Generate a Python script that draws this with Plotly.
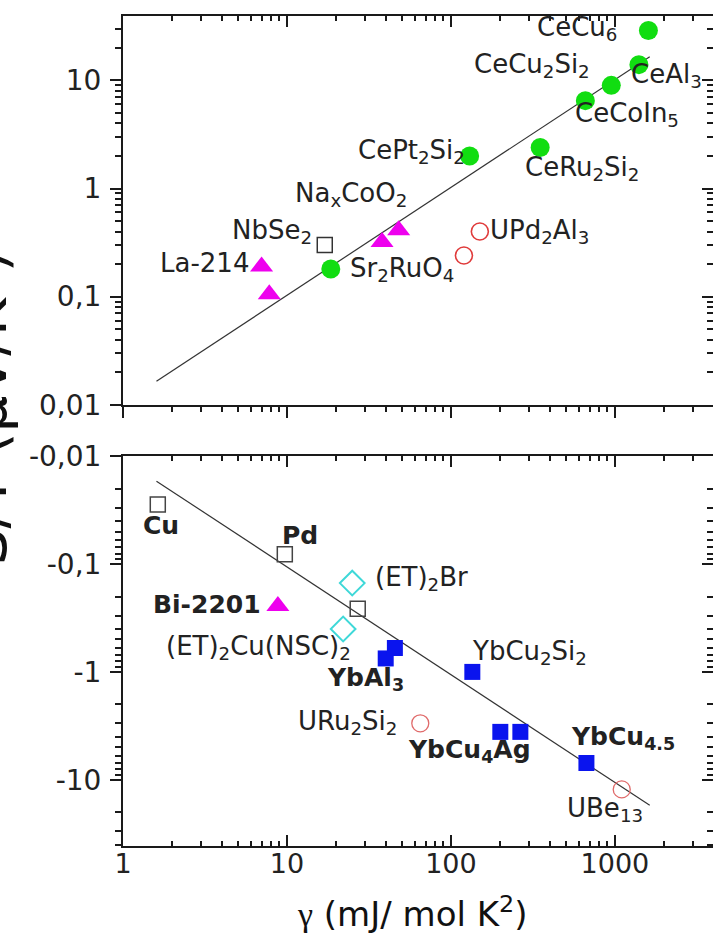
import numpy as np
import plotly.graph_objects as go

# ---------------- data ----------------
# upper panel: S/T > 0  (gamma in mJ/mol K^2, S/T in microV/K^2)
ce_gamma = [1600, 1400, 950, 660, 130, 350, 18.5]        # CeCu6, CeAl3, CeCu2Si2, CeCoIn5, CePt2Si2, CeRu2Si2, Sr2RuO4
ce_st = [29.0, 14.0, 9.0, 6.5, 2.0, 2.4, 0.18]
tri_top_gamma = [7.0, 7.8, 38, 48]                         # La-214 (x2), NaxCoO2 (x2)
tri_top_st = [0.19, 0.105, 0.32, 0.41]
sq_top_gamma = [17]                                        # NbSe2
sq_top_st = [0.30]
u_top_gamma = [150, 120]                                   # UPd2Al3
u_top_st = [0.40, 0.24]
fit_top_gamma = [1.6, 1630]
fit_top_st = [0.0165, 16.6]

# lower panel: S/T < 0
sq_bot_gamma = [1.63, 9.7, 27]                             # Cu, Pd, (unlabelled)
sq_bot_st = [-0.028, -0.081, -0.26]
et_gamma = [25, 22]                                        # (ET)2Br, (ET)2Cu(NSC)2
et_st = [-0.15, -0.40]
bi_gamma = [8.8]                                           # Bi-2201
bi_st = [-0.245]
yb_gamma = [40, 45.5, 135, 200, 265, 670]                  # YbAl3 (x2), YbCu2Si2, YbCu4Ag (x2), YbCu4.5
yb_st = [-0.75, -0.60, -1.0, -3.6, -3.6, -7.0]
u_bot_gamma = [65, 1100]                                   # URu2Si2, UBe13
u_bot_st = [-3.0, -12.3]
fit_bot_gamma = [1.6, 1630]
fit_bot_st = [-0.017, -17.3]

# tick labels
x_tickvals = [1, 10, 100, 1000]
x_ticktext = ["1", "10", "100", "1000"]
y_tickvals = [0.01, 0.1, 1, 10]
y_top_ticktext = ["0,01", "0,1", "1", "10"]
y_bot_ticktext = ["-0,01", "-0,1", "-1", "-10"]

# text labels: (text, gamma, S/T, bold)
top_labels = [
    ("CeCu<sub>6</sub>", 590, 27.5, False),
    ("CeCu<sub>2</sub>Si<sub>2</sub>", 312, 12.6, False),
    ("CeAl<sub>3</sub>", 2075, 10.2, False),
    ("CeCoIn<sub>5</sub>", 1183, 4.4, False),
    ("CePt<sub>2</sub>Si<sub>2</sub>", 57.8, 2.01, False),
    ("CeRu<sub>2</sub>Si<sub>2</sub>", 629, 1.40, False),
    ("Na<sub>x</sub>CoO<sub>2</sub>", 24.5, 0.80, False),
    ("NbSe<sub>2</sub>", 8.1, 0.37, False),
    ("La-214", 3.12, 0.205, False),
    ("Sr<sub>2</sub>RuO<sub>4</sub>", 50.3, 0.165, False),
    ("UPd<sub>2</sub>Al<sub>3</sub>", 349, 0.37, False),
]
bot_labels = [
    ("Cu", 1.71, -0.044, True),
    ("Pd", 12.0, -0.0545, True),
    ("(ET)<sub>2</sub>Br", 66.5, -0.147, False),
    ("Bi-2201", 3.25, -0.235, True),
    ("(ET)<sub>2</sub>Cu(NSC)<sub>2</sub>", 6.75, -0.648, False),
    ("YbAl<sub>3</sub>", 30.3, -1.28, True),
    ("YbCu<sub>2</sub>Si<sub>2</sub>", 303, -0.72, False),
    ("URu<sub>2</sub>Si<sub>2</sub>", 23.5, -3.18, False),
    ("YbCu<sub>4</sub>Ag", 129, -5.87, True),
    ("YbCu<sub>4.5</sub>", 1119, -4.46, True),
    ("UBe<sub>13</sub>", 869, -20.5, False),
]

# ---------------- styling ----------------
FONT = "DejaVu Sans"
AX = "#1a1a1a"
minor_x = [m * 10 ** k for k in range(0, 4) for m in range(2, 10)]
minor_y = [m * 10.0 ** k for k in range(-2, 2) for m in range(2, 10)]
X_RANGE = [0, 3.598]
Y_TOP_RANGE = [-2, 1.596]
Y_BOT_RANGE = [1.615, -2]

fig = go.Figure()

def mk(x, y, xa, ya, symbol, size, color, line_color=None, line_w=0):
    return go.Scatter(
        x=x, y=y, mode="markers", xaxis=xa, yaxis=ya, showlegend=False,
        marker=dict(symbol=symbol, size=size, color=color,
                    line=dict(color=line_color or color, width=line_w)))

# upper panel
fig.add_trace(go.Scatter(x=fit_top_gamma, y=fit_top_st, mode="lines", xaxis="x", yaxis="y",
                         line=dict(color="#333", width=1.2), showlegend=False))
fig.add_trace(mk(ce_gamma, ce_st, "x", "y", "circle", 19, "#11dd11"))
fig.add_trace(mk(tri_top_gamma, tri_top_st, "x", "y", "triangle-up", 20, "#ee00ee"))
fig.add_trace(mk(sq_top_gamma, sq_top_st, "x", "y", "square-open", 15, "#333", "#333", 1.5))
fig.add_trace(mk(u_top_gamma, u_top_st, "x", "y", "circle-open", 17, "#e03c3c", "#e03c3c", 1.6))

# lower panel (plotted as |S/T| on a reversed log axis)
fig.add_trace(go.Scatter(x=fit_bot_gamma, y=np.abs(fit_bot_st), mode="lines", xaxis="x2", yaxis="y2",
                         line=dict(color="#333", width=1.2), showlegend=False))
fig.add_trace(mk(sq_bot_gamma, np.abs(sq_bot_st), "x2", "y2", "square-open", 15, "#444", "#444", 1.5))
fig.add_trace(mk(et_gamma, np.abs(et_st), "x2", "y2", "diamond-open", 19, "#3fd8d8", "#3fd8d8", 2))
fig.add_trace(mk(bi_gamma, np.abs(bi_st), "x2", "y2", "triangle-up", 20, "#ee00ee"))
fig.add_trace(mk(yb_gamma, np.abs(yb_st), "x2", "y2", "square", 16, "#0a14ee"))
fig.add_trace(mk(u_bot_gamma, np.abs(u_bot_st), "x2", "y2", "circle-open", 17, "#e06a6a", "#e06a6a", 1.3))

# empty traces that register the mirrored (overlay) axes
for xa, ya in [("x3", "y"), ("x", "y3"), ("x4", "y2"), ("x2", "y4")]:
    fig.add_trace(go.Scatter(x=[], y=[], xaxis=xa, yaxis=ya, showlegend=False, hoverinfo="skip"))

xtickfont = dict(family=FONT, size=27, color="#222")
ytickfont = dict(family=FONT, size=28, color="#222")

def xaxis(ticks, labels=False, **kw):
    d = dict(type="log", range=X_RANGE, showline=True, linecolor=AX, linewidth=2,
             showgrid=False, zeroline=False, tickmode="array", tickvals=x_tickvals,
             ticktext=x_ticktext, ticks=ticks, ticklen=11, tickwidth=2, tickcolor=AX,
             showticklabels=labels, tickfont=xtickfont,
             minor=dict(tickmode="array", tickvals=minor_x, ticks=ticks, ticklen=5,
                        tickwidth=2, tickcolor=AX, showgrid=False))
    d.update(kw)
    return d

def yaxis(rng, ticktext, ticks, labels=True, line=True, **kw):
    d = dict(type="log", range=rng, showline=line, linecolor=AX, linewidth=2,
             showgrid=False, zeroline=False, tickmode="array", tickvals=y_tickvals,
             ticktext=ticktext, ticks=ticks, ticklen=11, tickwidth=2, tickcolor=AX,
             showticklabels=labels, tickfont=ytickfont,
             minor=dict(tickmode="array", tickvals=minor_y, ticks=ticks, ticklen=6,
                        tickwidth=2, tickcolor=AX, showgrid=False))
    d.update(kw)
    return d

TOP_DOM = [0.5317, 1.0]
BOT_DOM = [0.0, 0.4695]

fig.update_layout(
    width=713, height=936,
    margin=dict(l=123, r=0, t=9, b=90),
    paper_bgcolor="white", plot_bgcolor="white",
    font=dict(family=FONT, color="#222"),
    xaxis=xaxis("outside", anchor="y", side="bottom"),
    xaxis3=xaxis("inside", overlaying="x", anchor="y", side="top"),
    xaxis2=xaxis("inside", labels=True, anchor="y2", side="bottom", ticklabelstandoff=-7),
    xaxis4=xaxis("inside", overlaying="x2", anchor="y2", side="top"),
    yaxis=yaxis(Y_TOP_RANGE, y_top_ticktext, "outside", domain=TOP_DOM, anchor="x", ticklabelstandoff=3),
    yaxis3=yaxis(Y_TOP_RANGE, y_top_ticktext, "inside", labels=False, line=False,
                 overlaying="y", anchor="x", side="right"),
    yaxis2=yaxis(Y_BOT_RANGE, y_bot_ticktext, "outside", domain=BOT_DOM, anchor="x2", ticklabelstandoff=3),
    yaxis4=yaxis(Y_BOT_RANGE, y_bot_ticktext, "inside", labels=False, line=False,
                 overlaying="y2", anchor="x2", side="right"),
)

LABEL_SIZE = 26
annots = []
for txt, gx, st, bold in top_labels:
    annots.append(dict(text=f"<b>{txt}</b>" if bold else txt, x=np.log10(gx), y=np.log10(st),
                       xref="x", yref="y", showarrow=False, xanchor="center", yanchor="middle",
                       yshift=4 if "<sub>" in txt else 0,
                       font=dict(family=FONT, size=LABEL_SIZE, color="#222")))
for txt, gx, st, bold in bot_labels:
    annots.append(dict(text=f"<b>{txt}</b>" if bold else txt, x=np.log10(gx), y=np.log10(abs(st)),
                       xref="x2", yref="y2", showarrow=False, xanchor="center", yanchor="middle",
                       yshift=4 if "<sub>" in txt else 0,
                       font=dict(family=FONT, size=LABEL_SIZE - 1 if bold else LABEL_SIZE, color="#222")))

# axis titles
annots.append(dict(text="<span style='font-family:Liberation Serif'>γ</span> (mJ/ mol K<sup>2</sup>)",
                   x=0.49, y=-0.079, xref="paper", yref="paper", showarrow=False,
                   xanchor="center", yanchor="middle", font=dict(family=FONT, size=34, color="#111")))
annots.append(dict(text="S/T (μV/K<sup>2</sup>)", textangle=-90,
                   x=-0.172, y=0.528, xref="paper", yref="paper", showarrow=False,
                   xanchor="right", yanchor="middle", font=dict(family=FONT, size=58, color="#111")))
fig.update_layout(annotations=annots)

fig.write_html("out.html")
